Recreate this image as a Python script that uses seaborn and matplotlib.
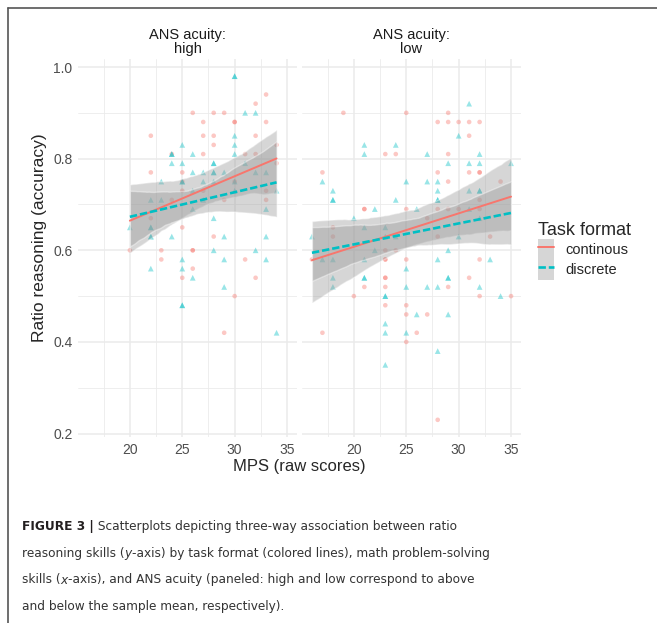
import numpy as np
import pandas as pd
import matplotlib
matplotlib.use('Agg')
import matplotlib.pyplot as plt
import seaborn as sns
from matplotlib import font_manager
from matplotlib.patches import Patch
from matplotlib.lines import Line2D
from matplotlib.ticker import MultipleLocator, FormatStrFormatter

# values: MPS raw score (x) and ratio reasoning accuracy (y)
high_cont_x = [33, 32, 26, 28, 29, 27, 30, 30, 33, 22, 27, 28, 32, 28, 34, 24, 27, 31, 32, 34, 22, 25,
               25, 30, 25, 27, 33, 24, 29, 33, 22, 25, 28, 20, 23, 26, 26, 23, 31, 26, 25, 32, 30, 29]
high_cont_y = [0.94, 0.92, 0.90, 0.90, 0.90, 0.88, 0.88, 0.88, 0.88, 0.85, 0.85, 0.85, 0.85, 0.83, 0.83,
               0.81, 0.81, 0.81, 0.81, 0.79, 0.77, 0.77, 0.75, 0.75, 0.73, 0.73, 0.73, 0.71, 0.71, 0.71,
               0.67, 0.65, 0.63, 0.60, 0.60, 0.60, 0.60, 0.58, 0.58, 0.56, 0.54, 0.54, 0.50, 0.42]

high_disc_x = [30, 30, 31, 32, 30, 25, 30, 24, 24, 26, 30, 24, 25, 28, 28, 31, 26, 27, 28, 28, 29, 32,
               33, 23, 25, 25, 27, 28, 30, 26, 30, 34, 22, 23, 27, 26, 33, 28, 20, 22, 22, 22, 22, 24,
               29, 33, 28, 32, 25, 29, 33, 22, 25, 26, 29, 25, 25, 34]
high_disc_y = [0.98, 0.98, 0.90, 0.90, 0.85, 0.83, 0.83, 0.81, 0.81, 0.81, 0.81, 0.79, 0.79, 0.79, 0.79,
               0.79, 0.77, 0.77, 0.77, 0.77, 0.77, 0.77, 0.77, 0.75, 0.75, 0.75, 0.75, 0.75, 0.75, 0.73,
               0.73, 0.73, 0.71, 0.71, 0.71, 0.69, 0.69, 0.67, 0.65, 0.65, 0.65, 0.63, 0.63, 0.63, 0.63,
               0.63, 0.60, 0.60, 0.58, 0.58, 0.58, 0.56, 0.56, 0.54, 0.52, 0.48, 0.48, 0.42]

low_cont_x = [19, 25, 29, 28, 29, 30, 31, 32, 31, 23, 24, 29, 17, 28, 31, 32, 32, 29, 34, 32, 21, 21,
              25, 28, 29, 30, 32, 27, 18, 18, 28, 33, 23, 24, 16, 23, 23, 25, 32, 23, 23, 31, 21, 23,
              29, 20, 32, 35, 23, 25, 25, 27, 17, 26, 25, 28]
low_cont_y = [0.90, 0.90, 0.90, 0.88, 0.88, 0.88, 0.88, 0.88, 0.85, 0.81, 0.81, 0.81, 0.77, 0.77, 0.77,
              0.77, 0.77, 0.75, 0.75, 0.71, 0.69, 0.69, 0.69, 0.69, 0.69, 0.69, 0.69, 0.67, 0.65, 0.63,
              0.63, 0.63, 0.60, 0.60, 0.58, 0.58, 0.58, 0.58, 0.58, 0.54, 0.54, 0.54, 0.52, 0.52, 0.52,
              0.50, 0.50, 0.50, 0.48, 0.48, 0.46, 0.46, 0.42, 0.42, 0.40, 0.23]

low_disc_x = [31, 30, 21, 24, 21, 27, 32, 29, 31, 32, 35, 17, 25, 27, 28, 18, 28, 31, 32, 32, 18, 18,
              24, 28, 28, 22, 26, 31, 20, 32, 21, 23, 16, 23, 24, 30, 22, 29, 17, 18, 21, 28, 33, 25,
              18, 21, 21, 29, 29, 18, 25, 27, 28, 32, 23, 23, 34, 26, 29, 23, 23, 25, 28, 23]
low_disc_y = [0.92, 0.85, 0.83, 0.83, 0.81, 0.81, 0.81, 0.79, 0.79, 0.79, 0.79, 0.75, 0.75, 0.75, 0.75,
              0.73, 0.73, 0.73, 0.73, 0.73, 0.71, 0.71, 0.71, 0.71, 0.71, 0.69, 0.69, 0.69, 0.67, 0.67,
              0.65, 0.65, 0.63, 0.63, 0.63, 0.63, 0.60, 0.60, 0.58, 0.58, 0.58, 0.58, 0.58, 0.56, 0.54,
              0.54, 0.54, 0.54, 0.54, 0.52, 0.52, 0.52, 0.52, 0.52, 0.50, 0.50, 0.50, 0.46, 0.46, 0.44,
              0.42, 0.42, 0.38, 0.35]

panels = ['high', 'low']
formats = ['continous', 'discrete']
x_ticks = [20, 25, 30, 35]
y_ticks = [0.2, 0.4, 0.6, 0.8, 1.0]

caption = [
    [('FIGURE 3 |', 'bold'), (' Scatterplots depicting three-way association between ratio', 'normal')],
    [('reasoning skills (', 'normal'), ('y', 'italic'),
     ('-axis) by task format (colored lines), math problem-solving', 'normal')],
    [('skills (', 'normal'), ('x', 'italic'),
     ('-axis), and ANS acuity (paneled: high and low correspond to above', 'normal')],
    [('and below the sample mean, respectively).', 'normal')],
]

frames = []
for panel, fmt, xs, ys in [('high', 'continous', high_cont_x, high_cont_y),
                           ('high', 'discrete', high_disc_x, high_disc_y),
                           ('low', 'continous', low_cont_x, low_cont_y),
                           ('low', 'discrete', low_disc_x, low_disc_y)]:
    frames.append(pd.DataFrame({'panel': panel, 'format': fmt, 'mps': xs, 'ratio': ys}))
df = pd.concat(frames, ignore_index=True)

sns.set_theme(style='white')
plt.rcParams['font.family'] = ['Liberation Sans', 'DejaVu Sans']

colors = {'continous': '#F8766D', 'discrete': '#00BFC4'}
markers = {'continous': 'o', 'discrete': '^'}
sizes = {'continous': 11, 'discrete': 17}
line_styles = {'continous': dict(lw=1.4, ls='-'), 'discrete': dict(lw=1.9, ls=(0, (2.8, 1.1)))}

W, H = 657, 623
fig = plt.figure(figsize=(W / 100, H / 100), dpi=100)

for i, panel in enumerate(panels):
    left = [78, 302][i]
    ax = fig.add_axes([left / W, (H - 437) / H, 219 / W, 378 / H])
    sub = df[df['panel'] == panel]
    for fmt in formats:
        g = sub[sub['format'] == fmt]
        sns.scatterplot(data=g, x='mps', y='ratio', ax=ax, marker=markers[fmt], s=sizes[fmt],
                        color=colors[fmt], alpha=0.4, edgecolor='none', linewidth=0, zorder=2)
    for fmt in formats:
        g = sub[sub['format'] == fmt]
        n_before = len(ax.collections)
        sns.regplot(data=g, x='mps', y='ratio', ax=ax, scatter=False, ci=95, seed=3,
                    color=colors[fmt], line_kws=dict(zorder=4, **line_styles[fmt]))
        for c in ax.collections[n_before:]:
            c.set_facecolor('#999999')
            c.set_alpha(0.4)
            c.set_zorder(3)

    ax.set_xlim(15.05, 35.95)
    ax.set_ylim(0.1925, 1.0175)
    ax.set_xticks(x_ticks)
    ax.set_yticks(y_ticks)
    ax.yaxis.set_major_formatter(FormatStrFormatter('%.1f'))
    ax.xaxis.set_minor_locator(MultipleLocator(2.5))
    ax.yaxis.set_minor_locator(MultipleLocator(0.1))
    ax.grid(True, which='major', color='#EBEBEB', lw=1.1)
    ax.grid(True, which='minor', color='#EBEBEB', lw=0.6)
    ax.set_axisbelow(True)
    for s in ax.spines.values():
        s.set_visible(False)
    ax.tick_params(which='both', length=0, labelsize=10, labelcolor='#4D4D4D')
    ax.tick_params(axis='x', pad=4)
    ax.tick_params(axis='y', pad=4)
    if i == 1:
        ax.tick_params(labelleft=False)
    ax.set_xlabel('')
    ax.set_ylabel('')
    ax.set_title('ANS acuity:\n' + panel, fontsize=10.5, color='#1A1A1A', pad=4, linespacing=1.0)

fig.text(299.5 / W, 1 - 466 / H, 'MPS (raw scores)', fontsize=12, ha='center', va='center')
fig.text(40 / W, 1 - 238 / H, 'Ratio reasoning (accuracy)', fontsize=12.5, rotation=90,
         ha='center', va='center')

handles = []
for fmt in formats:
    handles.append((Patch(facecolor='#D6D6D6', edgecolor='none'),
                    Line2D([], [], color=colors[fmt], **line_styles[fmt])))
fig.legend(handles, formats, title='Task format', loc='upper left',
           bbox_to_anchor=(531 / W, 1 - 215 / H), frameon=False, fontsize=10.5,
           title_fontsize=13, handlelength=1.05, handleheight=1.75, labelspacing=0,
           handletextpad=0.8, borderpad=0, alignment='left')

# page frame lines (top and left)
fig.add_artist(Line2D([8 / W, 1], [1 - 8 / H, 1 - 8 / H], transform=fig.transFigure,
                      color='#555555', lw=1.2))
fig.add_artist(Line2D([8 / W, 8 / W], [0, 1 - 8 / H], transform=fig.transFigure,
                      color='#555555', lw=1.2))

# caption, condensed font if there is one
cap_family = 'Liberation Sans'
cap_stretch = 'normal'
for f in font_manager.fontManager.ttflist:
    if f.name == 'Liberation Sans Narrow':
        cap_family, cap_stretch = 'Liberation Sans Narrow', 'normal'
        break
    if f.name == 'DejaVu Sans' and f.stretch == 'condensed':
        cap_family, cap_stretch = 'DejaVu Sans', 'condensed'
renderer = fig.canvas.get_renderer()


def draw_line(pieces, x0, y0, size, draw=True):
    # place each styled piece right after the previous one
    x = x0
    arts = []
    for txt, style in pieces:
        weight = 'bold' if style == 'bold' else 'normal'
        fstyle = 'italic' if style == 'italic' else 'normal'
        t = fig.text(x / W, 1 - y0 / H, txt.replace(' ', '\u00a0'), fontsize=size, family=cap_family,
                     stretch=cap_stretch, weight=weight, style=fstyle,
                     color='#231F20' if style == 'bold' else '#333333', va='baseline', ha='left')
        bb = t.get_window_extent(renderer=renderer)
        x += bb.width
        arts.append(t)
    if not draw:
        for t in arts:
            t.remove()
    return x - x0


size = 12.0
w = draw_line(caption[1], 22, 557, size, draw=False)
size = size * 466 / w
for pieces, yb in zip(caption, [530, 557, 583.5, 610]):
    draw_line(pieces, 22, yb, size)

fig.savefig('out.png', dpi=100)
